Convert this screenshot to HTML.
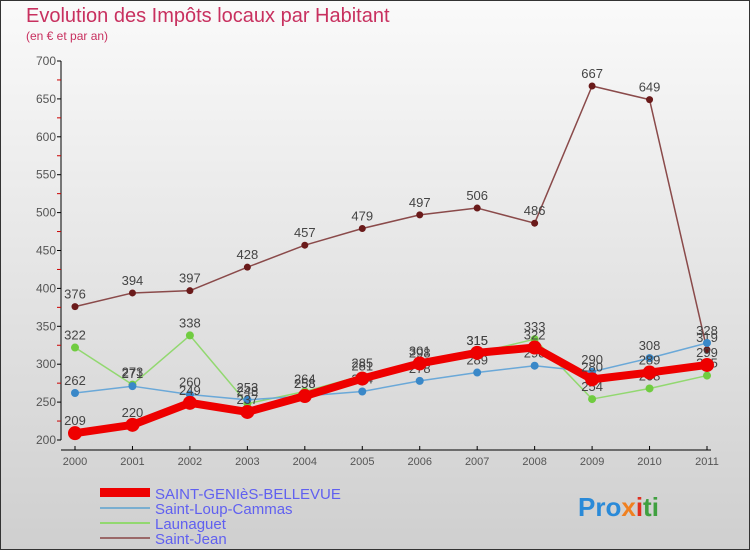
<!DOCTYPE html>
<html><head><meta charset="utf-8"><style>
body{margin:0;width:750px;height:550px;overflow:hidden;font-family:"Liberation Sans",sans-serif}
</style></head><body>
<svg width="750" height="550" xmlns="http://www.w3.org/2000/svg">
<defs><linearGradient id="bg" x1="0" y1="0" x2="0" y2="1"><stop offset="0" stop-color="#fafafa"/><stop offset="1" stop-color="#cfcfcf"/></linearGradient></defs>
<rect x="0.5" y="0.5" width="749" height="549" fill="url(#bg)" stroke="#333"/>
<text x="26" y="22" font-size="20" fill="#c8305f">Evolution des Impôts locaux par Habitant</text>
<text x="26" y="40" font-size="12" fill="#c8305f">(en € et par an)</text>
<g id="axes"></g><g id="series"></g>
<g>
<rect x="100" y="488" width="50" height="9" fill="#e00"/>
<line x1="100" y1="508" x2="150" y2="508" stroke="#7aaed0" stroke-width="2"/>
<line x1="100" y1="523" x2="150" y2="523" stroke="#92d870" stroke-width="2"/>
<line x1="100" y1="538" x2="150" y2="538" stroke="#9a6868" stroke-width="2"/>
<g font-size="15" fill="#6060f0">
<text x="155" y="499">SAINT-GENIèS-BELLEVUE</text>
<text x="155" y="514">Saint-Loup-Cammas</text>
<text x="155" y="529">Launaguet</text>
<text x="155" y="544">Saint-Jean</text>
</g></g>
<text x="578" y="516" font-size="26" font-weight="bold"><tspan fill="#2a8ad8">Pro</tspan><tspan fill="#f08020">x</tspan><tspan fill="#e03020">i</tspan><tspan fill="#40a040">ti</tspan></text>
</svg>
<script>
const years=[2000,2001,2002,2003,2004,2005,2006,2007,2008,2009,2010,2011];
const yTicks=[200,250,300,350,400,450,500,550,600,650,700];
const stGenies=[209,220,249,237,258,281,301,315,322,280,289,299];
const stLoup=[262,271,260,253,258,264,278,289,298,290,308,328];
const launaguet=[322,273,338,248,264,285,298,315,333,254,268,285];
const stJean=[376,394,397,428,457,479,497,506,486,667,649,319];
const NS="http://www.w3.org/2000/svg";
const xs=i=>75+i*(707-75)/(years.length-1);
const ys=v=>440-(v-200)*(440-61)/500;
function mk(t,a,p){const e=document.createElementNS(NS,t);for(const k in a)e.setAttribute(k,a[k]);p.appendChild(e);return e;}
const ax=document.getElementById('axes');
let yl=mk('line',{x1:61,y1:61,x2:61,y2:440,stroke:'#000'},ax);


let xl=mk('line',{x1:61,y1:450,x2:711,y2:450,stroke:'#000'},ax);


yTicks.forEach(v=>{
 mk('line',{x1:57,y1:ys(v),x2:61,y2:ys(v),stroke:'#000'},ax);
 if(v<700)mk('line',{x1:57,y1:ys(v+25),x2:61,y2:ys(v+25),stroke:'#c00'},ax);
 const t=mk('text',{x:56,y:ys(v)+4,'font-size':12,fill:'#555','text-anchor':'end'},ax);t.textContent=v;
 
 
});
years.forEach((y,i)=>{
 mk('line',{x1:xs(i),y1:446,x2:xs(i),y2:450,stroke:'#000'},ax);
 const t=mk('text',{x:xs(i),y:465,'font-size':11,fill:'#555','text-anchor':'middle'},ax);t.textContent=y;
 
 
});
const sg=document.getElementById('series');
function draw(vals,color,w,r,name,dot){
 const g=mk('g',{},sg);
 
 
 mk('polyline',{points:vals.map((v,i)=>xs(i)+','+ys(v)).join(' '),fill:'none',stroke:color,'stroke-width':w,'stroke-linejoin':'round'},g);
 vals.forEach((v,i)=>{
  const c=mk('circle',{cx:xs(i),cy:ys(v),r:r,fill:dot},g);
  
  
  const t=mk('text',{x:xs(i),y:ys(v)-8,'font-size':13,fill:'#444','text-anchor':'middle'},g);t.textContent=v;
  
  
 });
}
draw(stJean,'#8a4a4a',1.5,3.5,'saint-jean-series','#6a1a1a');
draw(launaguet,'#92d870',1.5,4,'launaguet-series','#70cc40');
draw(stLoup,'#6aa8d8',1.5,4,'saint-loup-series','#3a88c8');
draw(stGenies,'#ee0000',8,7,'saint-genies-series','#ee0000');
</script>
</body></html>
